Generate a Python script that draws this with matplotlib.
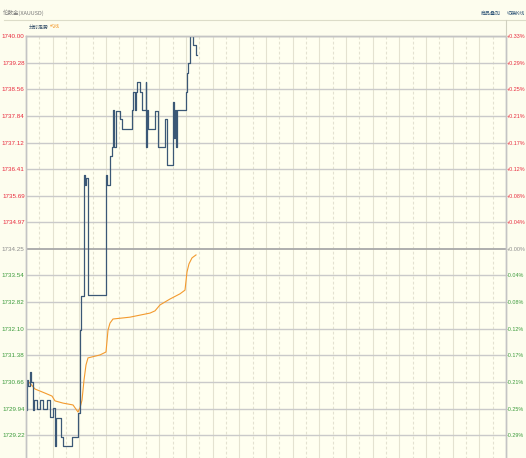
import matplotlib
matplotlib.use("Agg")
import matplotlib.pyplot as plt
from matplotlib import font_manager

# price line: step points (minutes from open, price)
price_t = [0, 3, 6, 12, 15, 21, 24, 33, 42, 51, 63, 72, 81, 87, 90, 105, 111, 138,
           156, 162, 165, 174, 177, 180, 186, 240, 243, 252, 258, 261, 264, 270, 282,
           288, 318, 321, 327, 330, 333, 342, 348, 360, 361, 363, 366, 387, 396, 417,
           423, 441, 444, 447, 450, 453, 480, 483, 486, 492, 501, 510, 513]
price_v = [1729.90, 1730.71, 1730.55, 1730.93, 1730.66, 1729.90, 1730.17, 1729.93,
           1730.17, 1729.93, 1730.17, 1729.71, 1729.96, 1728.93, 1729.69, 1729.17,
           1728.93, 1729.17, 1729.82, 1732.06, 1732.98, 1736.25, 1735.98, 1736.17,
           1733.01, 1736.25, 1735.98, 1736.76, 1737.00, 1738.00, 1737.00, 1737.98,
           1737.76, 1737.49, 1738.00, 1738.49, 1738.00, 1738.49, 1738.76, 1738.49,
           1738.00, 1738.76, 1737.00, 1738.00, 1737.49, 1737.98, 1737.00, 1737.76,
           1736.52, 1738.22, 1737.25, 1738.00, 1737.00, 1738.00, 1738.49, 1739.00,
           1739.27, 1740.00, 1739.76, 1739.49, 1739.49]

# average line
avg_t = [2, 3, 12, 27, 57, 78, 87, 111, 141, 156, 162, 168, 174, 180, 186, 222, 240,
         246, 252, 261, 312, 372, 387, 402, 417, 432, 462, 477, 483, 489, 498, 510]
avg_v = [1730.58, 1730.69, 1730.63, 1730.47, 1730.36, 1730.28, 1730.15, 1730.09,
         1730.04, 1729.85, 1729.96, 1730.17, 1730.71, 1731.12, 1731.31, 1731.39,
         1731.47, 1732.06, 1732.25, 1732.36, 1732.41, 1732.52, 1732.58, 1732.74,
         1732.82, 1732.90, 1733.04, 1733.14, 1733.63, 1733.85, 1734.01, 1734.09]

y_ticks = [1740.00, 1739.28, 1738.56, 1737.84, 1737.12, 1736.41, 1735.69, 1734.97,
           1734.25, 1733.54, 1732.82, 1732.10, 1731.38, 1730.66, 1729.94, 1729.22]
y_labels = ["1740.00", "1739.28", "1738.56", "1737.84", "1737.12", "1736.41",
            "1735.69", "1734.97", "1734.25", "1733.54", "1732.82", "1732.10",
            "1731.38", "1730.66", "1729.94", "1729.22"]
pct_labels = ["+0.33%", "+0.29%", "+0.25%", "+0.21%", "+0.17%", "+0.12%", "+0.08%",
              "+0.04%", "+0.00%", "-0.04%", "-0.08%", "-0.12%", "-0.17%", "-0.21%",
              "-0.25%", "-0.29%"]
pre_close = 1734.25

cjk = ["Noto Sans CJK SC", "DejaVu Sans"]
installed = {f.name for f in font_manager.fontManager.ttflist}
num_font = "Liberation Sans Narrow" if "Liberation Sans Narrow" in installed else "Liberation Sans"
bg = "#fffff0"

fig = plt.figure(figsize=(5.26, 4.58), dpi=100, facecolor="#fdfdee")
W, H = 526, 458
ax = fig.add_axes([26 / W, -4 / H, 480 / W, 426 / H])
ax.set_facecolor(bg)
ax.set_xlim(0, 1440)
ax.set_ylim(1728.50, 1740.00)

for k in range(1, 36):
    ax.axvline(k * 40, color="#e4e2d0", lw=0.8,
               ls=(0, (2.5, 2)) if k % 2 else "-", zorder=1)
for v in y_ticks:
    if v == pre_close:
        ax.axhline(v, color="#a8a8a8", lw=1.3, zorder=1)
    else:
        ax.axhline(v, color="#cacaca", lw=1.0, zorder=1)

ax.plot(price_t, price_v, drawstyle="steps-post", color="#3b5876", lw=0.9, zorder=3)
ax.plot(avg_t, avg_v, color="#f39a2e", lw=0.8, zorder=2)

def label_color(v):
    if v > pre_close:
        return "#e8283c"
    if v < pre_close:
        return "#3a9a3a"
    return "#8a8a8a"

ax.set_yticks(y_ticks)
ax.set_yticklabels(y_labels)
ax.set_xticks([])
ax.tick_params(axis="y", length=0, pad=1)
for lab, v in zip(ax.get_yticklabels(), y_ticks):
    lab.set_color(label_color(v))
    lab.set_fontsize(4.5)
    lab.set_fontfamily(num_font)

ax2 = ax.twinx()
ax2.set_ylim(ax.get_ylim())
ax2.set_yticks(y_ticks)
ax2.set_yticklabels(pct_labels)
ax2.tick_params(axis="y", length=0, pad=0.5)
for lab, v in zip(ax2.get_yticklabels(), y_ticks):
    lab.set_color(label_color(v))
    lab.set_fontsize(3.9)
    lab.set_fontfamily(num_font)

for a in (ax, ax2):
    for s in a.spines.values():
        s.set_color("#c4c4c4")
        s.set_linewidth(1.0)

# header
fig.add_artist(plt.Line2D([4 / W, 1], [1 - 20 / H, 1 - 20 / H],
                          color="#dcdcc8", lw=0.8))
fig.add_artist(plt.Line2D([506 / W, 506 / W], [1 - 20 / H, 1 - 36 / H],
                          color="#d0d0c0", lw=0.8))
fig.text(3 / W, 1 - 13 / H, "伦敦金(XAUUSD)", family=cjk, fontsize=4.0,
         color="#777777", va="center")
fig.text(29 / W, 1 - 27 / H, "分时走势", family=cjk, fontsize=3.6,
         color="#2f4a66", va="center")
fig.text(50 / W, 1 - 27 / H, "均线", family=cjk, fontsize=3.6,
         color="#f39a2e", va="center")
fig.text(481 / W, 1 - 13 / H, "商品叠加", family=cjk, fontsize=3.6,
         color="#2f5577", va="center")
fig.text(507 / W, 1 - 13 / H, "切换K线", family=cjk, fontsize=3.6,
         color="#2f5577", va="center")

fig.savefig("out.png", dpi=100, facecolor=fig.get_facecolor())
